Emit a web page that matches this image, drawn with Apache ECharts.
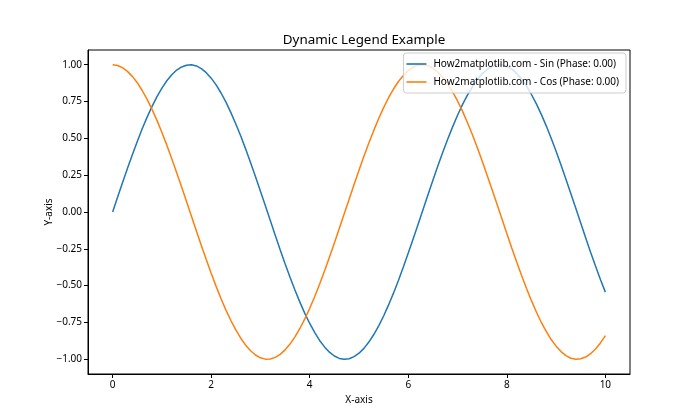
<!DOCTYPE html>
<html>
<head>
<meta charset="utf-8">
<script src="https://cdn.jsdelivr.net/npm/echarts@6/dist/echarts.min.js"></script>
<style>html,body{margin:0;padding:0;background:#fff}#c{width:700px;height:420px}</style>
</head>
<body>
<div id="c"></div>
<script>
const xValues = [0.0,0.1,0.2,0.3,0.4,0.5,0.6,0.7,0.8,0.9,1.0,1.1,1.2,1.3,1.4,1.5,1.6,1.7,1.8,1.9,2.0,2.1,2.2,2.3,2.4,2.5,2.6,2.7,2.8,2.9,3.0,3.1,3.2,3.3,3.4,3.5,3.6,3.7,3.8,3.9,4.0,4.1,4.2,4.3,4.4,4.5,4.6,4.7,4.8,4.9,5.0,5.1,5.2,5.3,5.4,5.5,5.6,5.7,5.8,5.9,6.0,6.1,6.2,6.3,6.4,6.5,6.6,6.7,6.8,6.9,7.0,7.1,7.2,7.3,7.4,7.5,7.6,7.7,7.8,7.9,8.0,8.1,8.2,8.3,8.4,8.5,8.6,8.7,8.8,8.9,9.0,9.1,9.2,9.3,9.4,9.5,9.6,9.7,9.8,9.9,10.0];
const sinValues = [0.000,0.100,0.199,0.296,0.389,0.479,0.565,0.644,0.717,0.783,0.841,0.891,0.932,0.964,0.985,0.997,1.000,0.992,0.974,0.946,0.909,0.863,0.808,0.746,0.675,0.598,0.516,0.427,0.335,0.239,0.141,0.042,-0.058,-0.158,-0.256,-0.351,-0.443,-0.530,-0.612,-0.688,-0.757,-0.818,-0.872,-0.916,-0.952,-0.978,-0.994,-1.000,-0.996,-0.982,-0.959,-0.926,-0.883,-0.832,-0.773,-0.706,-0.631,-0.551,-0.465,-0.374,-0.279,-0.182,-0.083,0.017,0.117,0.215,0.312,0.405,0.494,0.578,0.657,0.729,0.794,0.850,0.899,0.938,0.968,0.988,0.999,0.999,0.989,0.970,0.941,0.902,0.855,0.798,0.734,0.663,0.585,0.501,0.412,0.319,0.223,0.124,0.025,-0.075,-0.175,-0.273,-0.366,-0.458,-0.544];
const cosValues = [1.000,0.995,0.980,0.955,0.921,0.878,0.825,0.765,0.697,0.622,0.540,0.454,0.362,0.267,0.170,0.071,-0.029,-0.129,-0.227,-0.323,-0.416,-0.505,-0.589,-0.666,-0.737,-0.801,-0.857,-0.904,-0.942,-0.971,-0.990,-0.999,-0.998,-0.987,-0.967,-0.936,-0.897,-0.848,-0.791,-0.726,-0.654,-0.575,-0.490,-0.401,-0.307,-0.211,-0.112,-0.012,0.087,0.187,0.284,0.378,0.469,0.554,0.635,0.709,0.776,0.835,0.886,0.927,0.960,0.983,0.997,1.000,0.993,0.977,0.950,0.914,0.869,0.815,0.754,0.685,0.608,0.526,0.438,0.347,0.249,0.153,0.054,-0.046,-0.146,-0.244,-0.339,-0.431,-0.519,-0.602,-0.679,-0.750,-0.811,-0.866,-0.911,-0.948,-0.975,-0.993,-1.000,-0.997,-0.985,-0.962,-0.930,-0.889,-0.839];
const seriesNames = ["How2matplotlib.com - Sin (Phase: 0.00)", "How2matplotlib.com - Cos (Phase: 0.00)"];
const xTicks = [0,2,4,6,8,10];
const yTicks = [-1,-0.75,-0.5,-0.25,0,0.25,0.5,0.75,1];
const titleText = "Dynamic Legend Example";
const xLabel = "X-axis";
const yLabel = "Y-axis";

const font = "'Noto Sans', 'Open Sans', sans-serif";
const chart = echarts.init(document.getElementById('c'), null, {renderer: 'canvas'});
const fmtY = v => (v < 0 ? '\u2212' : '') + Math.abs(v).toFixed(2);
chart.setOption({
  animation: false,
  backgroundColor: '#fff',
  graphic: [{
    type: 'text', x: 364, y: 34, z: 100,
    style: {text: titleText, textAlign: 'center', textVerticalAlign: 'top', fill: '#000',
            font: "13.4px 'Noto Sans', 'Open Sans', sans-serif"}
  }],
  legend: {
    orient: 'vertical', right: 74, top: 53,
    data: seriesNames,
    icon: 'rect', itemWidth: 20, itemHeight: 1.6, itemGap: 6,
    padding: [5, 7, 5, 3],
    backgroundColor: 'rgba(255,255,255,0.8)', borderColor: '#cccccc', borderWidth: 1, borderRadius: 3,
    textStyle: {fontFamily: font, fontSize: 10, lineHeight: 12, color: '#000', padding: [0, 0, 0, 2]}
  },
  grid: {left: 88, right: 70, top: 50, bottom: 46, show: true, borderColor: '#000', borderWidth: 1, containLabel: false},
  xAxis: {
    type: 'value', min: -0.5, max: 10.5,
    name: xLabel, nameLocation: 'middle', nameGap: 21, nameMoveOverlap: false,
    nameTextStyle: {fontFamily: font, fontSize: 10, color: '#000'},
    axisLine: {show: true, onZero: false, lineStyle: {color: '#000', width: 1}},
    axisTick: {show: true, length: 4, customValues: xTicks, lineStyle: {color: '#000'}},
    axisLabel: {customValues: xTicks, fontFamily: font, fontSize: 10, color: '#000', margin: 6},
    splitLine: {show: false}
  },
  yAxis: {
    type: 'value', min: -1.1, max: 1.1,
    name: yLabel, nameLocation: 'middle', nameGap: 34, nameRotate: 90, nameMoveOverlap: false,
    nameTextStyle: {fontFamily: font, fontSize: 10, color: '#000'},
    axisLine: {show: true, onZero: false, lineStyle: {color: '#000', width: 1}},
    axisTick: {show: true, length: 4, customValues: yTicks, lineStyle: {color: '#000'}},
    axisLabel: {customValues: yTicks, formatter: fmtY, fontFamily: font, fontSize: 10, color: '#000', margin: 6},
    splitLine: {show: false}
  },
  series: [
    {name: seriesNames[0], type: 'line', smooth: false, showSymbol: false, symbol: 'none',
     data: xValues.map((x, i) => [x, sinValues[i]]),
     lineStyle: {color: '#1f77b4', width: 1.5}, itemStyle: {color: '#1f77b4'}, z: 2},
    {name: seriesNames[1], type: 'line', smooth: false, showSymbol: false, symbol: 'none',
     data: xValues.map((x, i) => [x, cosValues[i]]),
     lineStyle: {color: '#ff7f0e', width: 1.5}, itemStyle: {color: '#ff7f0e'}, z: 2}
  ]
});
</script>
</body>
</html>
